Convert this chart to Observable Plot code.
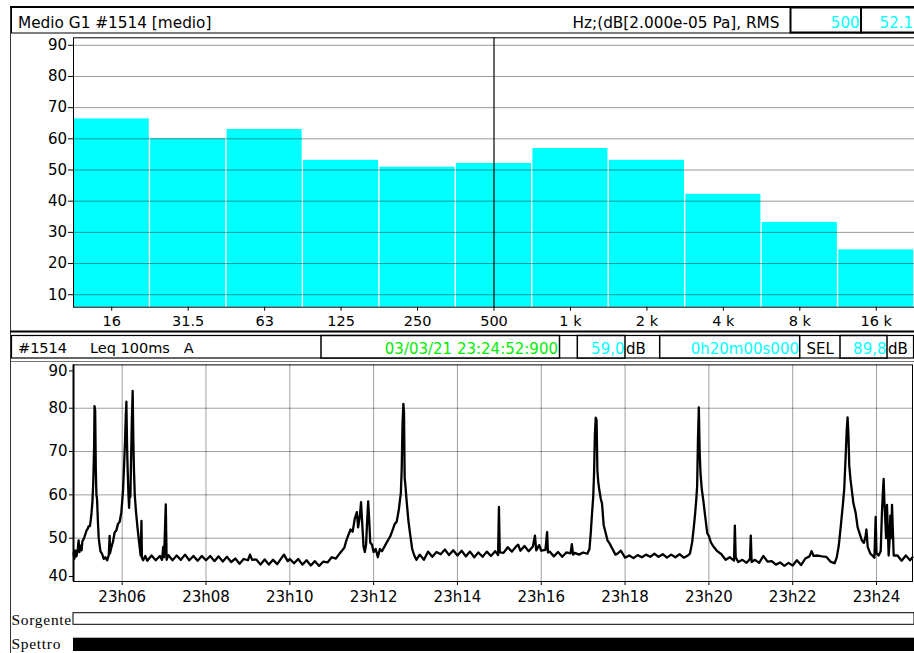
<!DOCTYPE html>
<html>
<head>
<meta charset="utf-8">
<script src="https://cdn.jsdelivr.net/npm/d3@7"></script>
<script src="https://cdn.jsdelivr.net/npm/@observablehq/plot@0.6"></script>
<style>
  html, body { margin: 0; padding: 0; background: #fff; }
  #root { position: relative; width: 914px; height: 653px; overflow: hidden; font-family: "DejaVu Sans", sans-serif; }
  #root > * { position: absolute; }
  svg { overflow: visible; }
</style>
</head>
<body>
<div id="root"></div>
<script>
// ---------------- DATA ----------------
const headerTitle = "Medio G1 #1514 [medio]";
const headerUnits = "Hz;(dB[2.000e-05 Pa], RMS";
const cursorBand = "500";
const cursorValue = "52.1";

const bandLabels = ["16", "31.5", "63", "125", "250", "500", "1 k", "2 k", "4 k", "8 k", "16 k"];
const bandLevels = [66.4, 60.0, 63.0, 53.1, 50.9, 52.1, 56.9, 53.1, 42.2, 33.2, 24.4];
const spectrumTicks = [10, 20, 30, 40, 50, 60, 70, 80, 90];

const channelId = "#1514";
const channelName = "Leq 100ms   A";
const cursorTime = "03/03/21 23:24:52:900";
const cursorLevel = "59,0";
const durationText = "0h20m00s000";
const selValue = "89,8";

// Leq 100ms A readings: [minutes after 23:00, dB]
const leqReadings = [
  [4.84,46.5],[4.86,45.3],[4.88,47.2],[4.91,45.8],[4.94,47.4],[4.96,49.5],[4.98,46.8],[5.00,48.3],[5.03,47.2],[5.05,49.3],
  [5.08,49.8],[5.10,50.3],[5.13,51.2],[5.15,51.8],[5.18,52.2],[5.20,52.8],[5.23,52.8],[5.25,54.2],[5.27,56.0],[5.29,58.5],
  [5.31,63.0],[5.33,71.0],[5.34,80.5],[5.355,79.5],[5.37,66.0],[5.385,60.0],[5.40,59.0],[5.42,54.0],[5.44,50.0],[5.46,48.5],
  [5.48,47.0],[5.52,46.4],[5.56,45.2],[5.60,45.6],[5.64,44.9],[5.68,46.1],[5.70,50.5],[5.71,46.5],[5.74,47.8],[5.78,49.2],
  [5.82,51.3],[5.86,51.8],[5.90,53.3],[5.94,53.8],[5.98,56.0],[6.02,61.0],[6.05,68.0],[6.07,73.0],[6.085,78.0],[6.10,81.5],
  [6.115,72.0],[6.13,66.0],[6.15,60.0],[6.165,57.0],[6.18,61.0],[6.195,59.5],[6.21,67.0],[6.23,77.0],[6.25,84.0],[6.265,73.0],
  [6.28,66.0],[6.30,60.0],[6.33,56.0],[6.37,52.0],[6.41,48.5],[6.44,46.0],[6.46,54.0],[6.47,45.5],[6.50,44.9],[6.55,45.9],
  [6.6,44.8],[6.7,46.0],[6.8,44.9],[6.9,45.9],[6.95,45.0],[6.98,48.0],[7.00,45.6],[7.04,57.8],[7.06,45.0],[7.1,46.1],
  [7.2,44.9],[7.3,46.0],[7.4,45.0],[7.5,46.2],[7.6,44.9],[7.7,45.9],[7.8,44.8],[7.9,45.9],[8.0,44.9],[8.1,45.9],
  [8.2,44.7],[8.3,45.8],[8.4,44.6],[8.5,45.7],[8.6,44.5],[8.7,45.3],[8.8,44.1],[8.9,45.2],[9.0,44.9],[9.05,46.2],
  [9.1,45.0],[9.2,45.1],[9.3,43.9],[9.4,45.1],[9.5,43.9],[9.6,45.0],[9.7,44.0],[9.8,45.4],[9.86,46.2],[9.95,44.7],
  [10.0,45.2],[10.1,44.2],[10.2,45.2],[10.3,43.9],[10.4,44.9],[10.5,43.7],[10.6,44.7],[10.7,43.6],[10.8,44.6],[10.9,44.4],
  [11.0,45.6],[11.1,45.3],[11.2,46.6],[11.3,47.8],[11.35,49.5],[11.4,50.8],[11.45,52.0],[11.5,51.5],[11.55,54.5],[11.6,56.0],
  [11.63,52.5],[11.67,55.0],[11.70,58.3],[11.73,53.0],[11.76,48.0],[11.79,46.8],[11.82,48.5],[11.85,55.0],[11.87,58.5],[11.89,55.0],
  [11.92,49.0],[11.96,48.5],[12.0,46.8],[12.05,47.5],[12.1,45.6],[12.15,47.5],[12.2,47.0],[12.3,48.8],[12.4,50.5],[12.45,51.8],
  [12.5,53.2],[12.55,53.8],[12.6,56.5],[12.65,60.5],[12.67,66.0],[12.69,76.5],[12.71,81.0],[12.725,79.0],[12.74,64.0],[12.76,62.0],
  [12.79,58.3],[12.83,54.0],[12.87,51.0],[12.92,47.5],[12.97,46.0],[13.02,45.0],[13.1,46.2],[13.2,45.0],[13.3,46.9],[13.4,45.7],
  [13.5,46.8],[13.6,46.3],[13.7,47.4],[13.8,46.1],[13.9,47.2],[14.0,46.0],[14.1,47.1],[14.2,45.8],[14.3,46.9],[14.4,45.6],
  [14.5,46.7],[14.6,45.7],[14.7,46.9],[14.8,45.9],[14.9,47.0],[14.97,46.1],[14.99,57.2],[15.01,46.7],[15.1,46.6],[15.2,47.9],
  [15.3,46.9],[15.4,48.1],[15.45,48.5],[15.5,47.1],[15.6,48.2],[15.7,47.0],[15.8,48.1],[15.85,50.6],[15.88,47.2],[15.95,48.4],
  [16.0,47.1],[16.1,47.3],[16.14,51.4],[16.16,46.7],[16.2,46.9],[16.3,45.8],[16.4,46.8],[16.5,45.7],[16.6,46.7],[16.7,46.5],
  [16.73,48.6],[16.76,46.2],[16.8,46.6],[16.9,46.2],[17.0,46.7],[17.1,46.4],[17.15,47.5],[17.18,51.0],[17.21,55.5],[17.24,59.5],
  [17.26,65.0],[17.28,74.0],[17.30,77.8],[17.32,77.3],[17.34,65.5],[17.36,63.0],[17.38,61.5],[17.42,59.1],[17.45,58.0],[17.49,53.0],
  [17.53,51.5],[17.58,49.5],[17.63,48.8],[17.7,47.5],[17.77,46.2],[17.84,46.6],[17.9,47.1],[18.0,45.5],[18.1,46.0],[18.2,45.4],
  [18.3,46.1],[18.4,45.6],[18.5,46.2],[18.6,45.7],[18.7,46.4],[18.8,45.7],[18.9,46.3],[19.0,45.5],[19.1,46.2],[19.2,45.6],
  [19.3,46.3],[19.4,45.5],[19.5,46.0],[19.55,46.5],[19.6,49.0],[19.64,52.5],[19.67,55.5],[19.70,59.0],[19.72,62.0],[19.74,73.0],
  [19.76,80.2],[19.78,70.0],[19.80,65.0],[19.83,61.4],[19.87,58.5],[19.90,56.0],[19.96,51.2],[20.0,50.5],[20.05,49.0],[20.1,48.2],
  [20.2,47.0],[20.3,46.3],[20.4,45.0],[20.5,45.6],[20.6,44.8],[20.62,52.9],[20.64,45.6],[20.7,44.5],[20.8,45.0],[20.9,44.3],
  [20.98,45.2],[21.0,50.6],[21.02,44.5],[21.1,45.0],[21.2,44.3],[21.3,45.9],[21.4,44.6],[21.5,44.7],[21.6,43.9],[21.7,44.4],
  [21.8,43.6],[21.9,44.3],[22.0,43.7],[22.1,44.9],[22.2,43.8],[22.3,45.3],[22.4,45.8],[22.45,47.0],[22.5,45.9],[22.6,46.0],
  [22.7,45.8],[22.8,45.7],[22.9,44.6],[23.0,44.2],[23.05,45.5],[23.1,48.3],[23.15,53.0],[23.2,58.0],[23.23,61.4],[23.26,68.0],
  [23.29,75.0],[23.31,77.9],[23.33,74.0],[23.35,66.8],[23.38,63.5],[23.45,58.0],[23.5,56.0],[23.55,52.5],[23.6,51.0],[23.65,49.5],
  [23.7,48.9],[23.74,50.5],[23.76,52.0],[23.79,48.0],[23.85,46.5],[23.9,46.0],[23.95,45.5],[23.98,54.9],[24.0,46.5],[24.05,46.0],
  [24.1,47.0],[24.13,56.0],[24.15,60.0],[24.17,63.7],[24.19,58.0],[24.21,54.0],[24.23,50.0],[24.25,57.7],[24.27,52.0],[24.29,46.0],
  [24.31,49.0],[24.33,55.2],[24.35,50.0],[24.37,57.7],[24.39,52.0],[24.41,46.0],[24.5,46.0],[24.6,44.8],[24.7,46.0],[24.8,44.9],
  [24.86,45.6]
];
const timeWindow = [4.838, 24.859];          // minutes after 23:00 shown on the time axis
const timeTickMinutes = [6, 8, 10, 12, 14, 16, 18, 20, 22, 24];
const levelGridTicks = [50, 60, 70, 80];
const tracks = ["Sorgente", "Spettro"];

// ---------------- HELPERS ----------------
const base = new Date(2021, 2, 3, 23, 0, 0);
const at = m => new Date(base.getTime() + m * 60000);
const root = document.getElementById("root");
const FONT = "DejaVu Sans";
const CYAN = "#00ffff";
const GREEN = "#00ee00";

// ---------------- DECORATION (header bars, frame) ----------------
const deco = d3.create("svg").attr("width", 914).attr("height", 653)
  .style("left", "0px").style("top", "0px").attr("font-family", FONT);
const line = (x1, y1, x2, y2, w, c) => deco.append("line").attr("x1", x1).attr("y1", y1).attr("x2", x2).attr("y2", y2)
  .attr("stroke", c || "#000").attr("stroke-width", w || 1);
const box = (x, y, w, h, sw) => deco.append("rect").attr("x", x).attr("y", y).attr("width", w).attr("height", h)
  .attr("fill", "#fff").attr("stroke", "#000").attr("stroke-width", sw || 1);
const text = (s, x, y, opt = {}) => deco.append("text").attr("x", x).attr("y", y).text(s)
  .attr("font-size", opt.size || 15).attr("fill", opt.fill || "#000")
  .attr("text-anchor", opt.anchor || "start").attr("xml:space", "preserve").style("white-space", "pre");

// outer left border
line(10.5, 6, 10.5, 653, 1, "#333");
// header 1
box(11.5, 7.5, 903, 25.5, 1);
line(10, 7, 914, 7, 2);
text(headerTitle, 18, 28, { size: 15.3 });
deco.append("clipPath").attr("id", "clipUnits").append("rect").attr("x", 500).attr("y", 0).attr("width", 290).attr("height", 40);
text(headerUnits, 572.5, 27.5, { size: 15.3 }).attr("clip-path", "url(#clipUnits)");
box(790.5, 7.5, 70.5, 25, 2);
text(cursorBand, 859.5, 27.5, { size: 15, fill: CYAN, anchor: "end" });
box(861, 7.5, 54, 25, 2);
text(cursorValue, 913, 27.5, { size: 15, fill: CYAN, anchor: "end" });

// header 2
line(10, 331.5, 914, 331.5, 2.2);
box(11.5, 335.5, 902, 22.5, 1.2);
text(channelId, 18, 353, { size: 14.5 });
text(channelName, 90, 353, { size: 14.5 });
box(321, 335.5, 238.5, 22.5, 1.5);
text(cursorTime, 558, 353.5, { size: 15, fill: GREEN, anchor: "end" });
box(577.3, 335.5, 47.7, 22.5, 1.5);
text(cursorLevel, 624.5, 353.5, { size: 15, fill: CYAN, anchor: "end" });
text("dB", 626, 353.5, { size: 15 });
box(659.7, 335.5, 140, 22.5, 1.5);
text(durationText, 799, 353.5, { size: 15, fill: CYAN, anchor: "end" });
text("SEL", 806.5, 353.5, { size: 15 });
box(840, 335.5, 47, 22.5, 1.5);
text(selValue, 886.5, 353.5, { size: 15, fill: CYAN, anchor: "end" });
text("dB", 888, 353.5, { size: 15 });
line(11, 361.5, 914, 361.5, 1, "#777");

root.appendChild(deco.node());

// ---------------- TOP: octave spectrum ----------------
const spectrum = bandLabels.map((b, i) => ({ band: b, level: bandLevels[i] }));
const topPlot = Plot.plot({
  width: 904, height: 296,
  marginLeft: 63, marginRight: 0, marginTop: 2.3, marginBottom: 24.3,
  style: { fontFamily: FONT, fontSize: "15px", background: "transparent", color: "#000" },
  x: { type: "band", domain: bandLabels, padding: 0, round: false, label: null },
  y: { domain: [6, 92.4], label: null },
  marks: [
    Plot.barY(spectrum, { x: "band", y: "level", fill: CYAN, insetLeft: 0.7, insetRight: 0.7, clip: true }),
    Plot.gridY(spectrumTicks, { stroke: "#000", strokeOpacity: 0.4 }),
    Plot.ruleX([cursorBand], { stroke: "#000", strokeWidth: 1.2 }),
    Plot.axisY(spectrumTicks, { tickSize: 5, tickPadding: 1.5, fontSize: 15, label: null }),
    Plot.axisX({ tickSize: 4, tickPadding: 4.5, fontSize: 14.5, label: null }),
    Plot.frame({ stroke: "#000" })
  ]
});
topPlot.style.left = "10px"; topPlot.style.top = "35px";
root.appendChild(topPlot);

// ---------------- BOTTOM: Leq time history ----------------
const leq = leqReadings.map(([m, v]) => ({ time: at(m), level: v }));
const tickDates = timeTickMinutes.map(at);
const xDomain = timeWindow.map(at);
const axisFont = { fontSize: 15, label: null };
const botPlot = Plot.plot({
  width: 904, height: 243,
  marginLeft: 63, marginRight: 2, marginTop: 2.4, marginBottom: 24,
  style: { fontFamily: FONT, fontSize: "15px", background: "transparent", color: "#000" },
  x: { type: "time", domain: xDomain, label: null },
  y: { domain: [40, 90], label: null },
  marks: [
    Plot.gridX(tickDates, { stroke: "#000", strokeOpacity: 0.38 }),
    Plot.gridY(levelGridTicks, { stroke: "#000", strokeOpacity: 0.38 }),
    Plot.line(leq, { x: "time", y: "level", stroke: "#000", strokeWidth: 2.3, strokeLinejoin: "round" }),
    Plot.axisY(levelGridTicks, { tickSize: 4, tickPadding: 2, ...axisFont }),
    Plot.axisY([90], { tickSize: 4, tickPadding: 2, dy: 6, ...axisFont }),
    Plot.axisY([40], { tickSize: 4, tickPadding: 2, dy: -5, ...axisFont }),
    Plot.axisX(tickDates, { tickFormat: d3.timeFormat("%Hh%M"), tickSize: 4, tickPadding: 5.5, ...axisFont }),
    Plot.frame({ stroke: "#000" }),
    Plot.ruleX([xDomain[0]], { stroke: "#000", strokeWidth: 2 })
  ]
});
botPlot.style.left = "10px"; botPlot.style.top = "362px";
root.appendChild(botPlot);

// ---------------- TRACKS: Sorgente / Spettro ----------------
const trackPlot = Plot.plot({
  width: 904, height: 48,
  marginLeft: 63, marginRight: 0, marginTop: 0, marginBottom: 0,
  style: { fontFamily: "Liberation Serif", fontSize: "15px", background: "transparent", color: "#000" },
  x: { type: "time", domain: xDomain, axis: null },
  y: { type: "band", domain: tracks, padding: 0, label: null },
  marks: [
    Plot.barX([{ track: tracks[0] }], { x1: () => xDomain[0], x2: () => xDomain[1], y: "track",
      fill: "#fff", stroke: "#000", strokeWidth: 1, insetTop: 7.7, insetBottom: 4.7 }),
    Plot.barX([{ track: tracks[1] }], { x1: () => xDomain[0], x2: () => xDomain[1], y: "track",
      fill: "#000", insetTop: 8.7, insetBottom: 2 }),
    Plot.axisY({ tickSize: 0, tickPadding: 62, textAnchor: "start", dy: 3, fontSize: 15.5, label: null,
      fontFamily: "Liberation Serif" })
  ]
});
trackPlot.style.left = "10px"; trackPlot.style.top = "605px";
d3.select(trackPlot).selectAll("text").style("letter-spacing", "0.7px");
root.appendChild(trackPlot);
</script>
</body>
</html>
